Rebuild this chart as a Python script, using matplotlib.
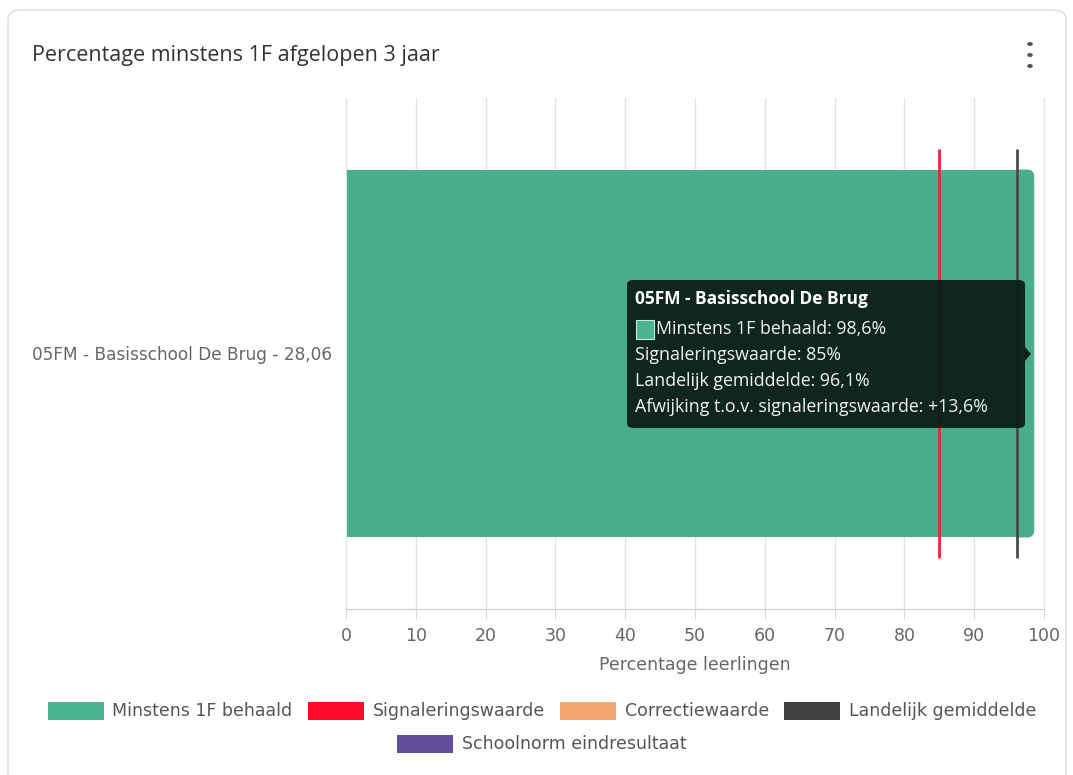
import matplotlib
matplotlib.use("Agg")
import matplotlib.pyplot as plt
from matplotlib.patches import FancyBboxPatch, Rectangle, Polygon, Circle

plt.rcParams['font.family'] = ['Liberation Sans Narrow', 'DejaVu Sans']

# data
school = "05FM - Basisschool De Brug - 28,06"
school_short = "05FM - Basisschool De Brug"
behaald = 98.6
signalering = 85
landelijk = 96.1
afwijking = "+13,6%"
legend_labels = ["Minstens 1F behaald", "Signaleringswaarde", "Correctiewaarde",
                 "Landelijk gemiddelde", "Schoolnorm eindresultaat"]
legend_colors = ["#4db493", "#ff0a2a", "#f2a672", "#404040", "#5f4f9c"]
xticks = list(range(0, 101, 10))

W, H = 1073, 775
fig = plt.figure(figsize=(W / 100, H / 100), dpi=100)


def fx(x):
    return x / W


def fy(y):
    return 1 - y / H


# card border
card = FancyBboxPatch((fx(8), fy(800)), fx(1058), (800 - 10) / H,
                      boxstyle="round,pad=0,rounding_size=0.012",
                      transform=fig.transFigure, facecolor="white",
                      edgecolor="#dcdcdc", linewidth=1.0, zorder=-10)
fig.patches.append(card)

fig.text(fx(32), fy(55), "Percentage minstens 1F afgelopen 3 jaar", fontsize=15.5,
         family=['Open Sans', 'DejaVu Sans'], color="#333333", va="center", ha="left")
for dy in (44, 55, 66):
    fig.patches.append(Circle((fx(1030), fy(dy)), 2.8 / W, transform=fig.transFigure,
                              facecolor="#555555", edgecolor="none"))

ax = fig.add_axes([fx(346), fy(609), fx(1044) - fx(346), (609 - 98) / H], zorder=1)
ax.patch.set_alpha(0)
ax.set_xlim(0, 100)
ax.set_ylim(-0.5, 0.5)
bars = ax.barh([0], [behaald], height=0.72, color="#4aae8c", zorder=2)
# round the right-hand corners of the bar a little
for b in bars:
    x0, y0 = b.get_x(), b.get_y()
    w, h = b.get_width(), b.get_height()
    b.set_visible(False)
    ax.add_patch(Rectangle((x0, y0), w - 1, h, color="#4aae8c", zorder=2, linewidth=0))
    ax.add_patch(FancyBboxPatch((x0 + w - 3, y0), 3, h, boxstyle="round,pad=0,rounding_size=1",
                                mutation_aspect=0.72 / 52, color="#4aae8c", zorder=2, linewidth=0))
ax.vlines(signalering, -0.4, 0.4, color="#e8263a", linewidth=2, zorder=3)
ax.vlines(landelijk, -0.4, 0.4, color="#4a4a4a", linewidth=2, zorder=3)

ax.set_xticks(xticks)
ax.set_xticklabels([str(t) for t in xticks], fontsize=12.5, color="#666666")
ax.set_yticks([0])
ax.set_yticklabels([school], fontsize=12.2, color="#666666")
ax.tick_params(axis="y", length=0, pad=10)
ax.tick_params(axis="x", length=7, color="#d8d8d8", pad=6)
ax.grid(axis="x", color="#e3e3e3", linewidth=1, zorder=0)
ax.set_axisbelow(True)
ax.spines["top"].set_visible(False)
ax.spines["right"].set_color("#e3e3e3")
ax.spines["left"].set_color("#e3e3e3")
ax.spines["bottom"].set_color("#cccccc")
ax.set_xlabel("Percentage leerlingen", fontsize=12.5, color="#666666", labelpad=8)

# tooltip
tip = FancyBboxPatch((fx(627), fy(428)), fx(1025) - fx(627), (428 - 280) / H,
                     boxstyle="round,pad=0,rounding_size=0.006",
                     transform=fig.transFigure, facecolor="#0b1f18", alpha=0.95,
                     edgecolor="none", zorder=10)
fig.patches.append(tip)
fig.patches.append(Polygon([(fx(1025), fy(347)), (fx(1031), fy(354)), (fx(1025), fy(361))],
                           closed=True, transform=fig.transFigure,
                           facecolor="#0b1f18", edgecolor="none", zorder=10))
tfont = ['Open Sans', 'DejaVu Sans']
fig.text(fx(635), fy(299), school_short, fontsize=12.5, weight="bold", color="white",
         family=tfont, va="center", zorder=11)
fig.patches.append(Rectangle((fx(636), fy(339)), 18 / W, 19 / H, transform=fig.transFigure,
                             facecolor="#4db493", edgecolor="#c8eadc", linewidth=0.8, zorder=11))
lines = [(656, 329, f"Minstens 1F behaald: {behaald:.1f}%".replace(".", ",")),
         (635, 355, f"Signaleringswaarde: {signalering}%"),
         (635, 381, f"Landelijk gemiddelde: {landelijk:.1f}%".replace(".", ",")),
         (635, 407, f"Afwijking t.o.v. signaleringswaarde: {afwijking}")]
for x, y, s in lines:
    fig.text(fx(x), fy(y), s, fontsize=12.8, weight="medium", color="#f2f2f2",
             family=tfont, va="center", zorder=11)

# legend, laid out in centred rows
fig.canvas.draw()
renderer = fig.canvas.get_renderer()
items = []
for lab, col in zip(legend_labels, legend_colors):
    t = fig.text(0, 0, lab, fontsize=12.5, color="#555555", va="center", ha="left")
    w = t.get_window_extent(renderer).width
    items.append((t, col, w))
patch_w, patch_h, gap, spacing, maxw = 56, 18, 9, 15, 1010
rows, cur, curw = [], [], 0
for it in items:
    iw = patch_w + gap + it[2]
    if cur and curw + spacing + iw > maxw:
        rows.append((cur, curw))
        cur, curw = [], 0
    curw = curw + (spacing if cur else 0) + iw
    cur.append(it)
rows.append((cur, curw))
cx = 542
for r, (row, rw) in enumerate(rows):
    y = 711 + 33 * r
    x = cx - rw / 2
    for t, col, w in row:
        fig.patches.append(Rectangle((fx(x), fy(y + patch_h / 2)), patch_w / W, patch_h / H,
                                     transform=fig.transFigure, facecolor=col, edgecolor="none"))
        t.set_position((fx(x + patch_w + gap), fy(y)))
        x += patch_w + gap + w + spacing

fig.savefig("out.png", dpi=100)
